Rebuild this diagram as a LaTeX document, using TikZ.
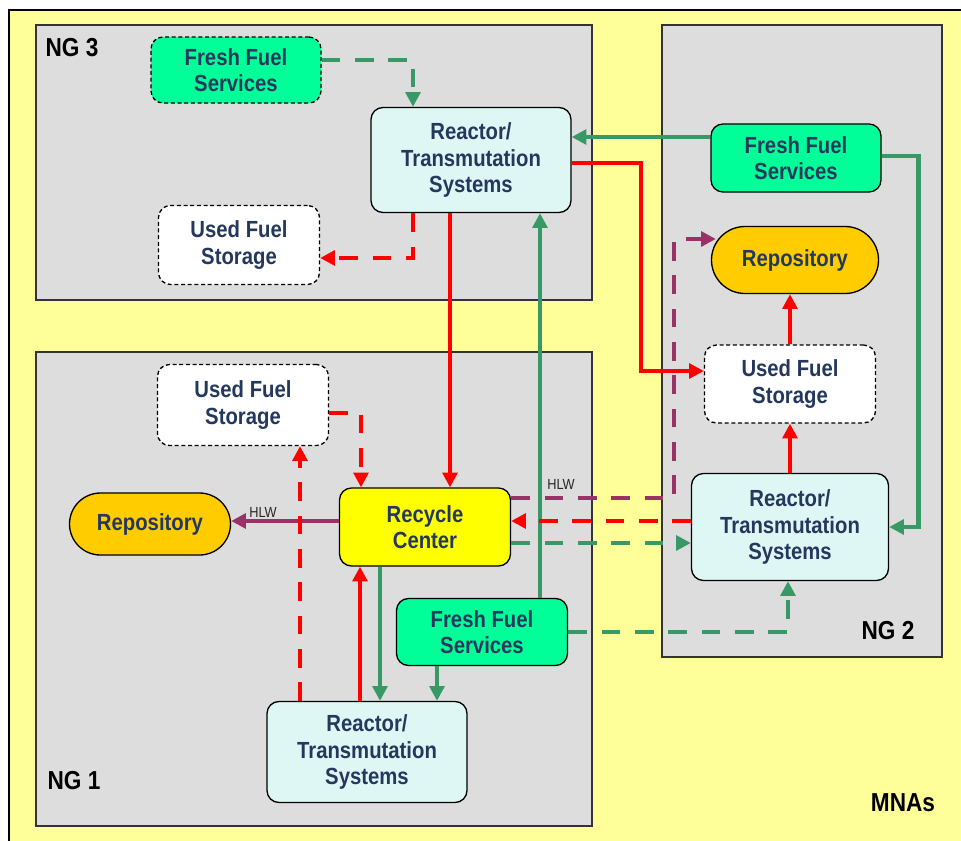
\documentclass[tikz,border=0pt]{standalone}
\usepackage{fontspec}
\setmainfont{Liberation Sans}[FakeStretch=0.87]
\usetikzlibrary{arrows.meta,calc,shapes.misc}

\definecolor{mnafill}{RGB}{255,255,153}
\definecolor{ngfill}{RGB}{221,221,221}
\definecolor{fuelgreen}{RGB}{0,255,153}
\definecolor{reactfill}{RGB}{222,247,244}
\definecolor{repofill}{RGB}{255,204,0}
\definecolor{recyfill}{RGB}{255,255,0}
\definecolor{flowred}{RGB}{255,0,0}
\definecolor{flowgreen}{RGB}{56,153,102}
\definecolor{flowhlw}{RGB}{153,51,102}
\definecolor{txtblue}{RGB}{36,56,94}

\newcommand\boxfont{\fontsize{17.5pt}{19.8pt}\selectfont\bfseries}

\tikzset{every picture/.style={line width=0.75pt},
  textbox/.style={draw=black, line width=1pt, align=center, inner sep=0pt, text=txtblue, font=\boxfont},
  box/.style={textbox, rounded corners=9pt},
  dashbox/.style={dash pattern=on 3pt off 2pt},
  fuelbox/.style={box, fill=fuelgreen},
  reactbox/.style={box, fill=reactfill},
  storebox/.style={box, dashbox, fill=white},
  repobox/.style={textbox, rounded rectangle, fill=repofill},
  recybox/.style={box, fill=recyfill},
  ngbox/.style={fill=ngfill, draw=black!80, line width=1.1pt},
  nglabel/.style={font=\fontsize{19.5pt}{22pt}\selectfont\bfseries},
  hlwlabel/.style={font=\fontsize{11pt}{13pt}\selectfont, text=black!85},
  flow/.style={line width=3.5pt, -{Triangle[length=11pt,width=11pt]}},
  redflow/.style={flow, draw=flowred},
  greenflow/.style={flow, draw=flowgreen},
  hlwflow/.style={flow, draw=flowhlw},
  flowdash/.style={dash pattern=on 14pt off 11pt}
}

\begin{document}
\begin{tikzpicture}[x=0.75pt,y=0.75pt,yscale=-1,xscale=1]
\useasboundingbox (0,0) rectangle (961,840);

% MNA region
\fill[mnafill] (9,10) rectangle (975,855);
\draw[line width=1pt] (9,855) -- (9,10) -- (975,10);

% NG regions
\draw[ngbox] (36,25) rectangle (592,300);
\draw[ngbox] (662,25) rectangle (942,657);
\draw[ngbox] (36,352) rectangle (592,826);

\node[nglabel] (ng3) at (72,48) {NG 3};
\node[nglabel] (ng2) at (888,631) {NG 2};
\node[nglabel] (ng1) at (74,781) {NG 1};
\node[nglabel] (mnas) at (903,803) {MNAs};

% NG 3
\node[fuelbox, dashbox, minimum width=127.5pt, minimum height=49.5pt] (ff3) at (236,70) {Fresh Fuel\\Services};
\node[reactbox, minimum width=150pt, minimum height=78.75pt] (r3) at (471,160) {Reactor/\\Transmutation\\Systems};
\node[storebox, minimum width=120.75pt, minimum height=59.25pt] (ufs3) at (239,245) {Used Fuel\\Storage};

% NG 2
\node[fuelbox, minimum width=127.5pt, minimum height=51pt] (ff2) at (796,158) {Fresh Fuel\\Services};
\node[repobox, minimum width=125.25pt, minimum height=50.25pt] (rep2) at (795,260) {Repository};
\node[storebox, minimum width=128.25pt, minimum height=58.5pt] (ufs2) at (790,384) {Used Fuel\\Storage};
\node[reactbox, minimum width=147.75pt, minimum height=80.25pt] (r2) at (790,527) {Reactor/\\Transmutation\\Systems};

% NG 1
\node[storebox, minimum width=128.25pt, minimum height=60.75pt] (ufs1) at (243,405) {Used Fuel\\Storage};
\node[repobox, minimum width=120.75pt, minimum height=46.5pt] (rep1) at (150,524) {Repository};
\node[recybox, minimum width=128.25pt, minimum height=58.5pt] (rc) at (425,527) {Recycle\\Center};
\node[fuelbox, minimum width=128.25pt, minimum height=50.25pt] (ff1) at (482,632) {Fresh Fuel\\Services};
\node[reactbox, minimum width=150pt, minimum height=75.75pt] (r1) at (367,752) {Reactor/\\Transmutation\\Systems};

% flows NG 3
\draw[greenflow, flowdash] ($(ff3.east)+(0,-10)$) -| ($(r3.north)+(-58,0)$);
\draw[redflow, flowdash] ($(r3.south)+(-58,0)$) |- ($(ufs3.east)+(0,13)$);
\draw[redflow] ($(r3.south)+(-21,0)$) coordinate (p1) -- (p1 |- rc.north);
\draw[greenflow] ($(ff1.north)+(58,0)$) coordinate (p2) -- (p2 |- r3.south);
\draw[greenflow] ($(ff2.west)+(0,-21)$) coordinate (p3) -- (p3 -| r3.east);
\draw[redflow] ($(r3.east)+(0,3)$) -| ($(ufs2.west)+(-63,-13)$) -- ($(ufs2.west)+(0,-13)$);

% flows NG 2
\draw[greenflow] ($(ff2.east)+(0,-2)$) -| ($(r2.east)+(29,0)$) -- (r2.east);
\draw[redflow] (ufs2.north) -- (rep2.south -| ufs2.north);
\draw[redflow] (r2.north) -- (ufs2.south);
\draw[hlwflow, flowdash] ($(rc.east)+(0,-29)$) -| ($(rep2.west)+(-37,-21)$) -- ($(rep2.west)+(5,-21)$);
\node[hlwlabel] (hlw2) at (561,484) {HLW};
\draw[redflow, flowdash] ($(r2.west)+(0,-6)$) coordinate (p4) -- (p4 -| rc.east);
\draw[greenflow, flowdash] ($(rc.east)+(0,16)$) coordinate (p5) -- (p5 -| r2.west);
\draw[greenflow, flowdash] (ff1.east) -| ($(r2.south)+(-2,0)$);

% flows NG 1
\draw[redflow, flowdash] ($(ufs1.east)+(0,8)$) -| ($(rc.north)+(-64,0)$);
\draw[hlwflow] ($(rc.west)+(0,-6)$) coordinate (p6) -- (p6 -| rep1.east);
\node[hlwlabel] (hlw1) at (263,512) {HLW};
\draw[redflow, flowdash] ($(r1.north)+(-67,0)$) coordinate (p7) -- (p7 |- ufs1.south);
\draw[redflow] ($(r1.north)+(-7,0)$) coordinate (p8) -- (p8 |- rc.south);
\draw[greenflow] ($(rc.south)+(-45,0)$) coordinate (p9) -- (p9 |- r1.north);
\draw[greenflow] ($(ff1.south)+(-45,0)$) coordinate (p10) -- (p10 |- r1.north);

\end{tikzpicture}
\end{document}
